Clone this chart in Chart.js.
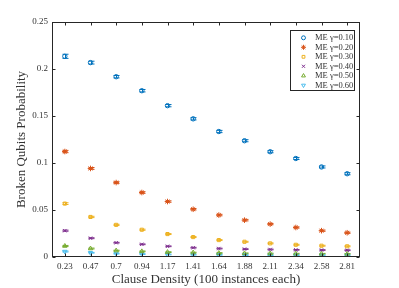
<!DOCTYPE html>
<html>
<head>
<meta charset="utf-8">
<script src="https://cdn.jsdelivr.net/npm/chart.js@4.4.0/dist/chart.umd.min.js"></script>
<style>
  html, body { margin: 0; padding: 0; background: #fff; }
  #wrap { width: 399px; height: 288px; }
</style>
</head>
<body>
<div id="wrap"><canvas id="c"></canvas></div>
<script>
// clause densities (x categories)
const densities = ['0.23', '0.47', '0.7', '0.94', '1.17', '1.41', '1.64', '1.88', '2.11', '2.34', '2.58', '2.81'];

// broken qubits probability per gamma
const gamma010 = [0.2135, 0.2068, 0.1918, 0.1769, 0.1610, 0.1470, 0.1335, 0.1237, 0.1120, 0.1048, 0.0958, 0.0886];
const gamma020 = [0.1122, 0.0942, 0.0792, 0.0686, 0.0590, 0.0508, 0.0446, 0.0392, 0.0350, 0.0314, 0.0280, 0.0258];
const gamma030 = [0.0568, 0.0426, 0.0342, 0.0290, 0.0244, 0.0212, 0.0180, 0.0162, 0.0145, 0.0130, 0.0120, 0.0114];
const gamma040 = [0.0280, 0.0200, 0.0152, 0.0135, 0.0114, 0.0099, 0.0090, 0.0084, 0.0080, 0.0076, 0.0074, 0.0072];
const gamma050 = [0.0117, 0.0090, 0.0068, 0.0060, 0.0052, 0.0047, 0.0042, 0.0039, 0.0037, 0.0035, 0.0034, 0.0033];
const gamma060 = [0.0058, 0.0045, 0.0036, 0.0031, 0.0027, 0.0025, 0.0023, 0.0021, 0.0020, 0.0019, 0.0018, 0.0018];

// half widths of the error bars
const err010 = [0.0022, 0.0015, 0.0013, 0.0013, 0.0012, 0.0012, 0.0012, 0.0011, 0.0011, 0.0011, 0.0011, 0.0011];
const err020 = [0.0012, 0.0010, 0.0009, 0.0009, 0.0008, 0.0008, 0.0008, 0.0008, 0.0007, 0.0007, 0.0007, 0.0007];
const err030 = [0.0009, 0.0007, 0.0006, 0.0006, 0.0005, 0.0005, 0.0005, 0.0005, 0.0005, 0.0005, 0.0005, 0.0005];
const err040 = [0.0006, 0.0005, 0.0004, 0.0004, 0.0004, 0.0004, 0.0004, 0.0004, 0.0004, 0.0004, 0.0004, 0.0004];
const err050 = [0.0006, 0.0005, 0.0004, 0.0004, 0.0004, 0.0004, 0.0004, 0.0004, 0.0004, 0.0004, 0.0004, 0.0004];
const err060 = [0.0005, 0.0004, 0.0004, 0.0004, 0.0004, 0.0004, 0.0004, 0.0004, 0.0004, 0.0004, 0.0004, 0.0004];

const seriesLabels = ['ME \u03b3=0.10', 'ME \u03b3=0.20', 'ME \u03b3=0.30', 'ME \u03b3=0.40', 'ME \u03b3=0.50', 'ME \u03b3=0.60'];
const yTicks = [0, 0.05, 0.1, 0.15, 0.2, 0.25];

const FONT = '"Liberation Serif", "DejaVu Serif", serif';
const INK = '#333333';

const colors = ['#0072BD', '#D95319', '#EDB120', '#7E2F8E', '#77AC30', '#4DBEEE'];
const styles = ['circle', 'star', 'rect', 'crossRot', 'triangle', 'triangle'];
const rotations = [0, 0, 0, 0, 0, 180];
const radii = [2.2, 2.8, 2.2, 2.4, 2.5, 2.5];
const values = [gamma010, gamma020, gamma030, gamma040, gamma050, gamma060];
const errors = [err010, err020, err030, err040, err050, err060];

const datasets = values.map((v, i) => ({
  label: seriesLabels[i],
  data: v,
  errors: errors[i],
  showLine: false,
  pointStyle: styles[i],
  rotation: rotations[i],
  pointRadius: radii[i],
  pointBorderWidth: 1,
  borderColor: colors[i],
  backgroundColor: 'rgba(0,0,0,0)',
  pointBackgroundColor: 'rgba(0,0,0,0)'
}));

// error bars, box and inner tick marks (MATLAB look)
const matlabLook = {
  id: 'matlabLook',
  beforeDatasetsDraw(chart) {
    const ctx = chart.ctx;
    const ys = chart.scales.y;
    ctx.save();
    ctx.lineWidth = 1;
    chart.data.datasets.forEach((ds, i) => {
      const meta = chart.getDatasetMeta(i);
      ctx.strokeStyle = ds.borderColor;
      meta.data.forEach((pt, j) => {
        const v = ds.data[j], e = ds.errors[j];
        const y1 = ys.getPixelForValue(v - e), y2 = ys.getPixelForValue(v + e);
        const x = Math.round(pt.x) + 0.5;
        ctx.beginPath();
        ctx.moveTo(x, y1); ctx.lineTo(x, y2);
        ctx.moveTo(x - 3, y1); ctx.lineTo(x + 3, y1);
        ctx.moveTo(x - 3, y2); ctx.lineTo(x + 3, y2);
        ctx.stroke();
      });
    });
    ctx.restore();
  },
  afterDraw(chart) {
    const ctx = chart.ctx;
    const a = chart.chartArea;
    const xs = chart.scales.x, ys = chart.scales.y;
    ctx.save();
    ctx.strokeStyle = '#262626';
    ctx.lineWidth = 1;
    const L = Math.round(a.left) + 0.5, R = Math.round(a.right) - 0.5;
    const T = Math.round(a.top) + 0.5, B = Math.round(a.bottom) - 0.5;
    ctx.strokeRect(L, T, R - L, B - T);
    ctx.beginPath();
    densities.forEach((d, i) => {
      const x = Math.round(xs.getPixelForValue(i)) + 0.5;
      ctx.moveTo(x, B); ctx.lineTo(x, B - 3);
      ctx.moveTo(x, T); ctx.lineTo(x, T + 3);
    });
    yTicks.forEach(v => {
      const y = Math.round(ys.getPixelForValue(v)) + 0.5;
      ctx.moveTo(L, y); ctx.lineTo(L + 3, y);
      ctx.moveTo(R, y); ctx.lineTo(R - 3, y);
    });
    ctx.stroke();

    // legend box
    const bx = 290.5, by = 30.5, bw = 64, bh = 60;
    ctx.fillStyle = '#fff';
    ctx.fillRect(bx, by, bw, bh);
    ctx.strokeRect(bx, by, bw, bh);
    ctx.font = '8.5px ' + FONT;
    ctx.textBaseline = 'middle';
    chart.data.datasets.forEach((ds, i) => {
      const y = 37.8 + i * 9.5;
      ctx.strokeStyle = ds.borderColor;
      ctx.fillStyle = 'rgba(0,0,0,0)';
      ctx.lineWidth = 1;
      Chart.helpers.drawPoint(ctx, {
        pointStyle: ds.pointStyle, radius: ds.pointRadius * 0.9,
        rotation: ds.rotation, borderWidth: 1
      }, 303.5, y);
      ctx.fillStyle = INK;
      ctx.fillText(ds.label, 315, y);
    });
    ctx.restore();
  }
};

new Chart(document.getElementById('c'), {
  type: 'line',
  data: { labels: densities, datasets: datasets },
  plugins: [matlabLook],
  options: {
    responsive: true,
    maintainAspectRatio: false,
    animation: false,
    layout: { padding: { top: 22, right: 39, left: 0, bottom: 0 } },
    plugins: { legend: { display: false }, tooltip: { enabled: false } },
    scales: {
      x: {
        type: 'category',
        offset: true,
        grid: { display: false, drawTicks: false },
        border: { display: false },
        ticks: { color: INK, font: { family: FONT, size: 9 }, padding: 4, maxRotation: 0, autoSkip: false },
        title: { display: true, text: 'Clause Density (100 instances each)', color: INK,
                 font: { family: FONT, size: 13 }, padding: { top: 0, bottom: 1 } },
        afterFit: s => { s.height = 31; }
      },
      y: {
        min: 0, max: 0.25,
        afterBuildTicks: s => { s.ticks = yTicks.map(v => ({ value: v })); },
        grid: { display: false, drawTicks: false },
        border: { display: false },
        ticks: { color: INK, font: { family: FONT, size: 9 }, padding: 4,
                 callback: v => String(Math.round(v * 100) / 100) },
        title: { display: true, text: 'Broken Qubits Probability', color: INK,
                 font: { family: FONT, size: 13 }, padding: { top: 14, bottom: 0 } },
        afterFit: s => { s.width = 52; }
      }
    }
  }
});
</script>
</body>
</html>
